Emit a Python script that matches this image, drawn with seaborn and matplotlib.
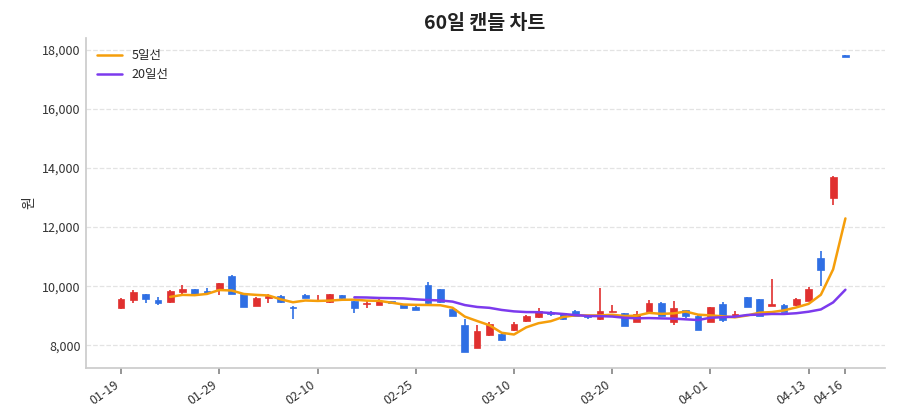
import matplotlib
matplotlib.use("Agg")
import matplotlib.pyplot as plt
import seaborn as sns
import numpy as np
import pandas as pd

opens  = [9250,9530,9730,9530,9450,9800,9890,9850,9900,10350,9750,9330,9600,9680,9310,9700,9500,9450,9700,9500,
          9390,9380,9500,9400,9300,10030,9900,9230,8680,7910,8340,8370,8510,8810,8950,9100,9080,9170,9000,8880,
          9130,9090,8800,9120,9440,8800,9200,9000,8800,9390,8980,9620,9570,9330,9380,9350,9500,10950,12980,17820]
closes = [9550,9800,9570,9440,9830,9890,9750,9780,10100,9750,9300,9600,9680,9450,9250,9600,9530,9730,9590,9270,
          9440,9490,9430,9270,9210,9420,9450,9000,7770,8470,8710,8170,8710,8980,9170,9050,8880,9000,8950,9170,
          9170,8670,9050,9430,9000,9250,8980,8530,9300,8850,9070,9300,9000,9400,9140,9570,9900,10540,13700,17750]
highs  = [9600,9870,9730,9620,9860,10030,9920,9950,10120,10370,9760,9620,9720,9690,9320,9720,9700,9750,9710,9510,
          9530,9560,9510,9410,9330,10140,9920,9240,8900,8700,8800,8400,8800,9020,9270,9170,9090,9180,9010,9940,
          9350,9100,9170,9520,9450,9500,9210,9010,9310,9470,9170,9630,9580,10230,9390,9600,9960,11180,13720,17830]
lows   = [9220,9420,9420,9360,9440,9720,9740,9700,9690,9740,9290,9320,9430,9440,8900,9590,9490,9440,9580,9100,
          9270,9370,9420,9260,9200,9400,9440,8990,7760,7900,8330,8160,8500,8800,8940,9000,8860,8990,8880,8870,
          9120,8660,8790,9110,8990,8700,8930,8520,8790,8800,8970,9290,8990,9320,9130,9340,9490,9990,12750,17740]
tick_pos = [0, 8, 16, 24, 32, 40, 48, 56, 59]
tick_labels = ["01-19","01-29","02-10","02-25","03-10","03-20","04-01","04-13","04-16"]

df = pd.DataFrame({"i": np.arange(len(opens)), "open": opens, "close": closes, "high": highs, "low": lows})
df["ma5"] = df["close"].rolling(5).mean()
df["ma20"] = df["close"].rolling(20).mean()

sns.set_theme(style="white")
plt.rcParams['font.family'] = ['Noto Sans CJK KR', 'DejaVu Sans']

fig, ax = plt.subplots(figsize=(9, 4.2), dpi=100)
fig.subplots_adjust(left=0.095, right=0.983, top=0.91, bottom=0.125)

up = df["close"] >= df["open"]
colors = np.where(up, "#e0302f", "#2f6fe4")
ax.vlines(df["i"], df["low"], df["high"], colors=colors, linewidth=1.2, zorder=2)
bottom = np.minimum(df["open"], df["close"])
height = np.maximum(np.abs(df["close"] - df["open"]), 40)
ax.bar(df["i"], height, bottom=bottom, width=0.55, color=colors, edgecolor=colors, linewidth=0.5, zorder=3)

sns.lineplot(data=df, x="i", y="ma5", ax=ax, color="#f59e0b", linewidth=1.8, label="5일선", zorder=4)
sns.lineplot(data=df, x="i", y="ma20", ax=ax, color="#7c3aed", linewidth=1.8, label="20일선", zorder=4)

ax.set_xlim(-2.9, 62.2)
ax.set_ylim(7250, 18400)
ax.set_yticks([8000, 10000, 12000, 14000, 16000, 18000])
ax.set_yticklabels([f"{v:,}" for v in [8000, 10000, 12000, 14000, 16000, 18000]], fontsize=9, color="#333")
ax.set_xticks(tick_pos)
ax.set_xticklabels(tick_labels, rotation=35, ha="right", fontsize=9, color="#333")
ax.tick_params(axis="x", length=4, color="#888", bottom=True)
ax.tick_params(axis="y", length=0)
ax.set_xlabel("")
ax.set_ylabel("원", fontsize=10, color="#333")
ax.yaxis.grid(True, linestyle="--", color="#e3e3e3", linewidth=0.9)
ax.xaxis.grid(False)
for s in ["top", "right"]:
    ax.spines[s].set_visible(False)
for s in ["left", "bottom"]:
    ax.spines[s].set_color("#cccccc")
ax.set_title("60일 캔들 차트", fontsize=14, fontweight="bold", color="#222")
leg = ax.legend(loc="upper left", frameon=False, fontsize=9)
fig.savefig("out.png", dpi=100)
